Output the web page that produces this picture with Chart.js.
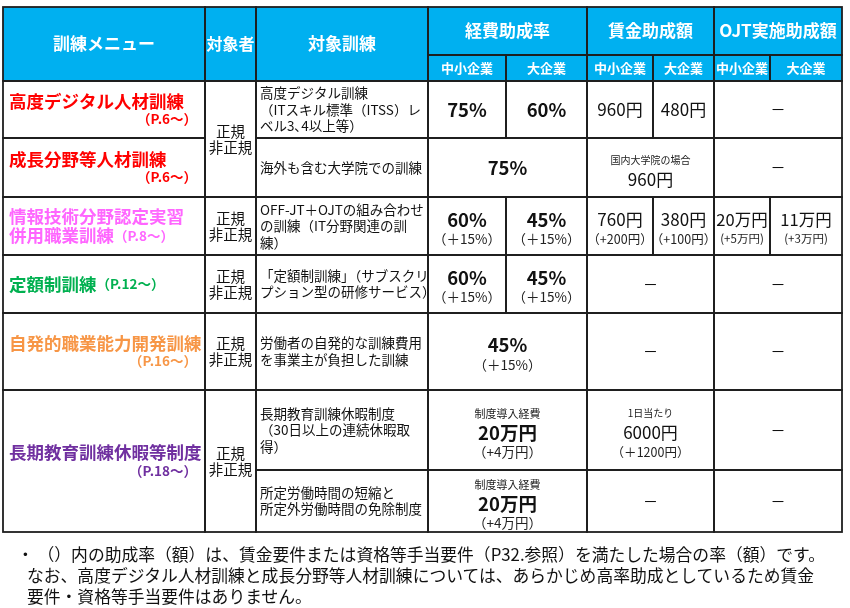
<!DOCTYPE html>
<html lang="ja">
<head>
<meta charset="utf-8">
<script src="https://cdn.jsdelivr.net/npm/chart.js@4"></script>
<style>
  html, body { margin: 0; padding: 0; background: #fff; }
  #wrap { position: relative; width: 850px; height: 608px; }
  #note { position: absolute; left: 0; top: 544px; font-family: "Noto Sans CJK JP", sans-serif; font-size: 16.8px; line-height: 21px; color: #111; }
  #note div { white-space: nowrap; }
</style>
</head>
<body>
<div id="wrap">
  <canvas id="tbl" width="850" height="608"></canvas>
  <div id="note">
    <div style="padding-left:17px">・ （）内の助成率（額）は、賃金要件または資格等手当要件（P32.参照）を満たした場合の率（額）です。</div>
    <div style="padding-left:27px">なお、高度デジタル人材訓練と成長分野等人材訓練については、あらかじめ高率助成としているため賃金</div>
    <div style="padding-left:27px">要件・資格等手当要件はありません。</div>
  </div>
</div>
<script>
// table contents
const mainHeaders = ['訓練メニュー', '対象者', '対象訓練'];
const groupHeaders = ['経費助成率', '賃金助成額', 'OJT実施助成額'];
const sizeHeaders = ['中小企業', '大企業'];

const menuNames = [['高度デジタル人材訓練'], ['成長分野等人材訓練'], ['情報技術分野認定実習', '併用職業訓練'], ['定額制訓練'], ['自発的職業能力開発訓練'], ['長期教育訓練休暇等制度']];
const menuPages = ['（P.6～）', '（P.6～）', '（P.8～）', '（P.12～）', '（P.16～）', '（P.18～）'];
const targetText = ['正規', '非正規'];

const trainings = [
    ['高度デジタル訓練', '（ITスキル標準（ITSS）レ', 'ベル3､4以上等）'],
    ['海外も含む大学院での訓練'],
    ['OFF-JT＋OJTの組み合わせ', 'の訓練（IT分野関連の訓', '練）'],
    ['「定額制訓練」（サブスクリ', 'プション型の研修サービス）'],
    ['労働者の自発的な訓練費用', 'を事業主が負担した訓練'],
    ['長期教育訓練休暇制度', '（30日以上の連続休暇取', '得）'],
    ['所定労働時間の短縮と', '所定外労働時間の免除制度']
];

// 経費助成率
const expenseMain = [['75%', '60%'], ['75%'], ['60%', '45%'], ['60%', '45%'], ['45%'], ['20万円'], ['20万円']];
const expenseExtra = [['', ''], [''], ['（＋15%）', '（＋15%）'], ['（＋15%）', '（＋15%）'], ['（＋15%）'], ['（+4万円）'], ['（+4万円）']];
const expenseNote = ['', '', '', '', '', '制度導入経費', '制度導入経費'];
// 賃金助成額
const wageMain = [['960円', '480円'], ['960円'], ['760円', '380円'], ['－'], ['－'], ['6000円'], ['－']];
const wageExtra = [['', ''], [''], ['（+200円）', '（+100円）'], [''], [''], ['（＋1200円）'], ['']];
const wageNote = ['', '国内大学院の場合', '', '', '', '1日当たり', ''];
// OJT実施助成額
const ojtMain = [['－'], ['－'], ['20万円', '11万円'], ['－'], ['－'], ['－'], ['－']];
const ojtExtra = [[''], [''], ['(+5万円)', '(+3万円)'], [''], [''], [''], ['']];

// layout (grid edges in table units, styles)
const colEdges = [0, 202, 253, 425, 503, 584, 650, 711, 767, 839];
const rowEdges = [0, 48, 74, 131, 190, 248, 306, 383, 463, 525];
const menuColors = ['#ff0000', '#ff0000', '#ff66ff', '#00b050', '#f79646', '#7030a0'];
const menuRowStart = [2, 3, 4, 5, 6, 7];
const menuRowSpan = [1, 1, 1, 1, 1, 2];
const pageInline = [false, false, true, true, false, false];
const targetRowStart = [2, 4, 5, 6, 7];
const targetRowSpan = [2, 1, 1, 1, 2];

const BLUE = '#00b0f0';
const FONT = '"Noto Sans CJK JP", "Noto Sans", sans-serif';
const f = (w, s) => `${w} ${s}px ${FONT}`;

const cells = [];

mainHeaders.forEach((t, i) => {
    cells.push({ r: 0, c: i, rs: 2, fill: BLUE, lines: [{ text: t, font: f('bold', i === 1 ? 16 : 17), color: '#fff', h: 20 }] });
});
groupHeaders.forEach((t, g) => {
    cells.push({ r: 0, c: 3 + 2 * g, cs: 2, fill: BLUE, lines: [{ text: t, font: f('bold', 17), color: '#fff', h: 20 }] });
    sizeHeaders.forEach((s, k) => {
        cells.push({ r: 1, c: 3 + 2 * g + k, fill: BLUE, lines: [{ text: s, font: f('bold', 13), color: '#fff', h: 16 }] });
    });
});

menuNames.forEach((names, i) => {
    const col = menuColors[i];
    const lines = names.map(n => ({ text: n, font: f('bold', 17.5), color: col, h: 19, align: 'left', pad: 6 }));
    const page = { text: menuPages[i], font: f('bold', 13.5), color: col };
    if (pageInline[i]) {
        const last = lines[lines.length - 1];
        last.parts = [{ text: last.text, font: last.font, color: col }, page];
    } else {
        lines.push(Object.assign(page, { h: 17, align: 'right', pad: 8 }));
    }
    cells.push({ r: menuRowStart[i], c: 0, rs: menuRowSpan[i], lines: lines });
});

targetRowStart.forEach((r, i) => {
    cells.push({ r: r, c: 1, rs: targetRowSpan[i], lines: targetText.map(t => ({ text: t, font: f('normal', 14.5), color: '#111', h: 16 })) });
});

trainings.forEach((rows, j) => {
    cells.push({ r: 2 + j, c: 2, lines: rows.map(t => ({ text: t, font: f('normal', 13.5), color: '#111', h: 16.5, align: 'left', pad: 4 })) });
});

const groups = [
    { main: expenseMain, extra: expenseExtra, note: expenseNote, mainFont: f('bold', 18.5), extraFont: f('normal', 13.5), noteFont: f('normal', 11) },
    { main: wageMain, extra: wageExtra, note: wageNote, mainFont: f('normal', 17), extraFont: f('normal', 12.5), noteFont: f('normal', 10) },
    { main: ojtMain, extra: ojtExtra, note: null, mainFont: f('normal', 16.5), extraFont: f('normal', 11.5), noteFont: null }
];
groups.forEach((g, gi) => {
    g.main.forEach((vals, j) => {
        vals.forEach((v, k) => {
            const lines = [];
            if (g.note && g.note[j]) lines.push({ text: g.note[j], font: g.noteFont, color: '#222', h: 18 });
            lines.push({ text: v, font: v === '－' ? f('normal', 15) : g.mainFont, color: '#111', h: 20 });
            if (g.extra[j][k]) lines.push({ text: g.extra[j][k], font: g.extraFont, color: '#222', h: 19 });
            cells.push({ r: 2 + j, c: 3 + 2 * gi + k, cs: vals.length === 1 ? 2 : 1, lines: lines, dy: lines.length > 1 ? 3 : 0 });
        });
    });
});

const tablePlugin = {
    id: 'tablePlugin',
    afterDraw(chart) {
        const ctx = chart.ctx;
        const xs = chart.scales.x, ys = chart.scales.y;
        const box = cell => ({
            x0: xs.getPixelForValue(colEdges[cell.c]),
            x1: xs.getPixelForValue(colEdges[cell.c + (cell.cs || 1)]),
            y0: ys.getPixelForValue(rowEdges[cell.r]),
            y1: ys.getPixelForValue(rowEdges[cell.r + (cell.rs || 1)])
        });
        ctx.save();
        cells.forEach(cell => {
            if (!cell.fill) return;
            const b = box(cell);
            ctx.fillStyle = cell.fill;
            ctx.fillRect(b.x0, b.y0, b.x1 - b.x0, b.y1 - b.y0);
        });
        ctx.strokeStyle = '#1e1e1e';
        ctx.lineWidth = 1.8;
        cells.forEach(cell => {
            const b = box(cell);
            ctx.strokeRect(b.x0, b.y0, b.x1 - b.x0, b.y1 - b.y0);
        });
        ctx.textBaseline = 'middle';
        cells.forEach(cell => {
            const b = box(cell);
            const total = cell.lines.reduce((s, l) => s + l.h, 0);
            let y = (b.y0 + b.y1) / 2 - total / 2 + (cell.dy || 0);
            cell.lines.forEach(l => {
                y += l.h / 2;
                const parts = l.parts || [{ text: l.text, font: l.font, color: l.color }];
                let w = 0;
                parts.forEach(p => { ctx.font = p.font; w += ctx.measureText(p.text).width; });
                let x;
                if (l.align === 'left') x = b.x0 + l.pad;
                else if (l.align === 'right') x = b.x1 - l.pad - w;
                else x = (b.x0 + b.x1) / 2 - w / 2;
                ctx.textAlign = 'left';
                parts.forEach(p => {
                    ctx.font = p.font;
                    ctx.fillStyle = p.color;
                    ctx.fillText(p.text, x, y);
                    x += ctx.measureText(p.text).width;
                });
                y += l.h / 2;
            });
        });
        ctx.restore();
    }
};

new Chart(document.getElementById('tbl'), {
    type: 'scatter',
    data: { datasets: [] },
    options: {
        responsive: false,
        animation: false,
        devicePixelRatio: 1,
        layout: { padding: { left: 3, top: 7, right: 8, bottom: 76 } },
        scales: {
            x: { type: 'linear', min: 0, max: colEdges[colEdges.length - 1], display: false },
            y: { type: 'linear', min: 0, max: rowEdges[rowEdges.length - 1], reverse: true, display: false }
        },
        plugins: { legend: { display: false }, tooltip: { enabled: false } }
    },
    plugins: [tablePlugin]
});
</script>
</body>
</html>
